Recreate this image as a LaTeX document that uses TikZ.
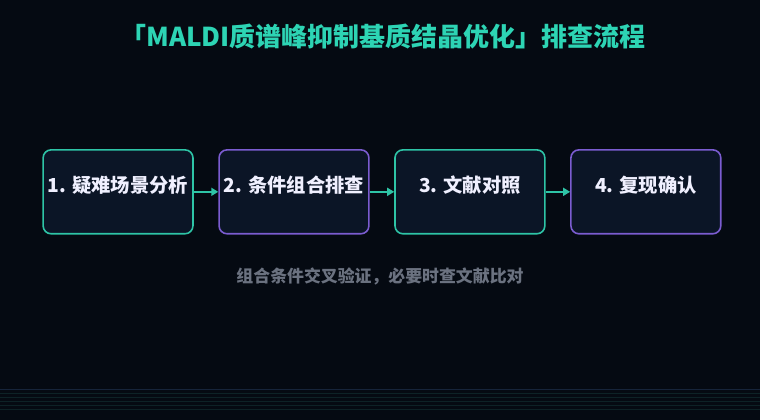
\documentclass[tikz,border=0pt]{standalone}
\usepackage{fontspec}
\setmainfont{Noto Sans CJK SC}
\usetikzlibrary{positioning, arrows.meta}

\definecolor{fundo}{HTML}{050A12}
\definecolor{caixa}{HTML}{0B1526}
\definecolor{verde}{HTML}{2EC4A6}
\definecolor{roxo}{HTML}{7B5CD0}
\definecolor{titulo}{HTML}{2DD4B4}
\definecolor{cinza}{HTML}{6B7280}
\definecolor{linhaazul}{HTML}{16243A}
\definecolor{linhaverde}{HTML}{0D2226}

\tikzset{
    etapa/.style={draw, line width=1.6pt, rounded corners=8pt, fill=caixa,
        minimum width=150pt, inner sep=0pt, text height=43pt, text depth=41pt,
        text=white!94!blue, font=\fontsize{19.3}{22}\selectfont\bfseries},
    etapaverde/.style={etapa, draw=verde},
    etaparoxa/.style={etapa, draw=roxo},
    seta/.style={-{Triangle[length=7pt, width=8pt]}, line width=1.6pt, verde}
}

\begin{document}
\begin{tikzpicture}[x=1pt, y=-1pt, node distance=24.5pt]
    % Fundo
    \fill[fundo] (0,0) rectangle (760,420);

    % Titulo
    \node[text=titulo, font=\fontsize{26}{30}\selectfont\bfseries] (tit) at (383,37)
        {「MALDI质谱峰抑制基质结晶优化」排查流程};

    % Etapas
    \node[etapaverde, anchor=west] (e1) at (42,192) {1. 疑难场景分析};
    \node[etaparoxa, right=of e1] (e2) {2. 条件组合排查};
    \node[etapaverde, right=of e2] (e3) {3. 文献对照};
    \node[etaparoxa, right=of e3] (e4) {4. 复现确认};

    % Setas
    \draw[seta] (e1) -- (e2);
    \draw[seta] (e2) -- (e3);
    \draw[seta] (e3) -- (e4);

    % Nota
    \node[text=cinza, font=\fontsize{16.9}{20}\selectfont\bfseries] (nota) at (380,277)
        {组合条件交叉验证，必要时查文献比对};

    % Linhas do rodape
    \draw[linhaazul, line width=0.7pt] (0,390) -- (760,390);
    \foreach \y in {394,398,...,410}
        \draw[linhaverde, line width=0.7pt] (0,\y) -- (760,\y);
\end{tikzpicture}
\end{document}
